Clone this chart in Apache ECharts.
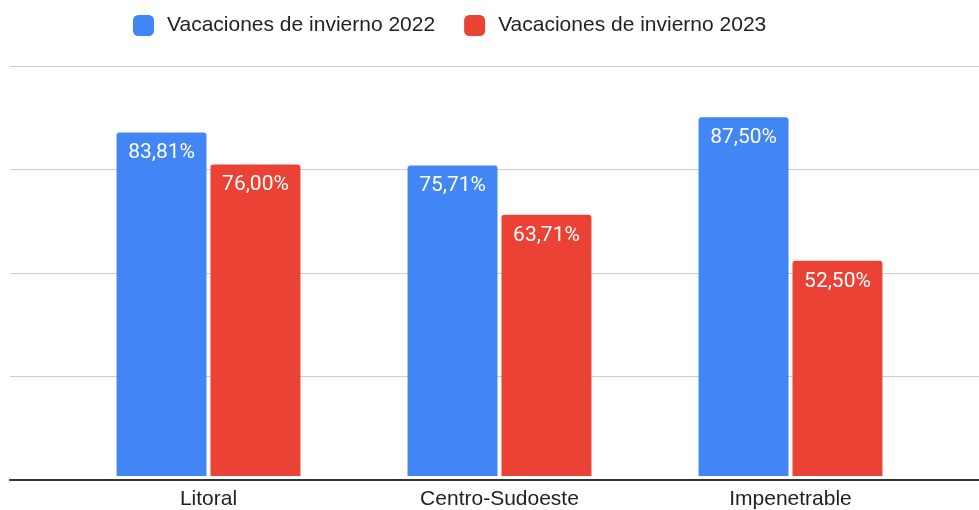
<!DOCTYPE html>
<html>
<head>
<meta charset="utf-8">
<script src="https://cdn.jsdelivr.net/npm/echarts@6/dist/echarts.min.js"></script>
<style>
  html, body { margin: 0; padding: 0; background: #fff; }
  #chart { width: 979px; height: 510px; }
</style>
</head>
<body>
<div id="chart"></div>
<script>
const categories = ['Litoral', 'Centro-Sudoeste', 'Impenetrable'];
const seriesNames = ['Vacaciones de invierno 2022', 'Vacaciones de invierno 2023'];
const winter2022 = [83.81, 75.71, 87.5];
const winter2023 = [76.0, 63.71, 52.5];
const colors = ['#4285f4', '#ea4335'];

const fmt = v => v.toFixed(2).replace('.', ',') + '%';

const chart = echarts.init(document.getElementById('chart'));

const barLabel = {
  show: true,
  position: 'insideTop',
  distance: 10,
  color: '#fff',
  fontSize: 21,
  fontFamily: 'Roboto',
  formatter: p => fmt(p.value)
};

chart.setOption({
  animation: false,
  textStyle: { fontFamily: 'Liberation Sans' },
  legend: {
    top: 10,
    left: 128,
    itemWidth: 21,
    itemHeight: 21,
    itemGap: 29,
    icon: 'roundRect',
    textStyle: { fontSize: 21, color: '#222', fontFamily: 'Liberation Sans', padding: [0, 0, 0, 8] },
    data: seriesNames
  },
  grid: [
    // full-width grid for gridlines and baseline
    { left: 10, right: 0, top: 66, bottom: 30 },
    // grid holding the bars
    { left: 63, right: 43, top: 66, bottom: 30 }
  ],
  xAxis: [
    {
      gridIndex: 0, type: 'category', data: [''],
      axisLine: { show: true, lineStyle: { color: '#333', width: 2 } },
      axisTick: { show: false }, axisLabel: { show: false }
    },
    {
      gridIndex: 1, type: 'category', data: categories,
      axisLine: { show: false }, axisTick: { show: false },
      axisLabel: { color: '#222', fontSize: 21, margin: 13, fontFamily: 'Liberation Sans' }
    }
  ],
  yAxis: [
    {
      gridIndex: 0, type: 'value', min: 0, max: 100, interval: 25,
      axisLabel: { show: false }, axisLine: { show: false }, axisTick: { show: false },
      splitLine: { lineStyle: { color: '#ccc', width: 1 } }
    },
    {
      gridIndex: 1, type: 'value', min: 0, max: 100, interval: 25,
      axisLabel: { show: false }, axisLine: { show: false }, axisTick: { show: false },
      splitLine: { show: false }
    }
  ],
  series: [
    {
      name: seriesNames[0], type: 'bar', xAxisIndex: 1, yAxisIndex: 1,
      data: winter2022, barGap: '4.4%', barCategoryGap: '36.8%',
      itemStyle: { color: colors[0], borderRadius: [3, 3, 0, 0] },
      label: barLabel
    },
    {
      name: seriesNames[1], type: 'bar', xAxisIndex: 1, yAxisIndex: 1,
      data: winter2023, barGap: '4.4%', barCategoryGap: '36.8%',
      itemStyle: { color: colors[1], borderRadius: [3, 3, 0, 0] },
      label: barLabel
    }
  ]
});
</script>
</body>
</html>
